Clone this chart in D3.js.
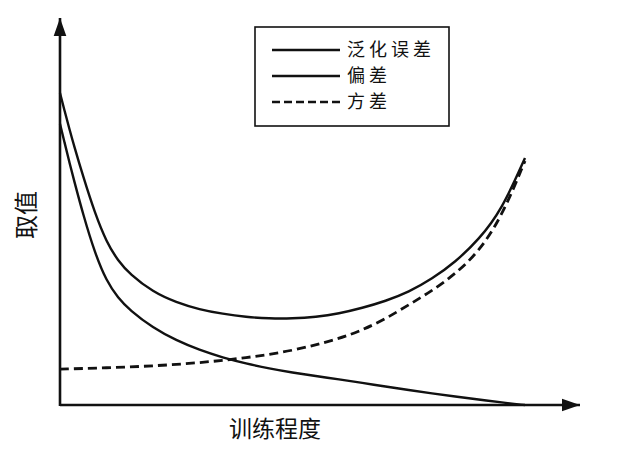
<!DOCTYPE html>
<html>
<head>
<meta charset="utf-8">
<script src="https://cdn.jsdelivr.net/npm/d3@7/dist/d3.min.js"></script>
<style>
  body { margin: 0; background: #fff; }
  svg { display: block; }
  text { font-family: "Noto Sans CJK SC", "Noto Sans", sans-serif; fill: #111; }
</style>
</head>
<body>
<svg id="chart" width="626" height="458"></svg>
<script>
// training degree (x) samples shared by the error and bias curves
const steps = [0, 0.1, 0.2, 0.3, 0.5, 0.75, 1, 1.25, 1.5, 2, 2.5, 3, 3.5, 4, 4.5, 5, 5.5, 6, 6.5, 7, 7.5, 8, 8.5, 9, 9.5, 10];

// generalization error (泛化误差)
const errorValues = [10.0, 9.42, 8.86, 8.32, 7.31, 6.15, 5.22, 4.62, 4.20, 3.62, 3.29, 3.06, 2.92, 2.82, 2.77, 2.77, 2.82, 2.93, 3.11, 3.33, 3.62, 4.04, 4.58, 5.29, 6.25, 7.92];

// bias (偏差)
const biasValues = [9.01, 8.40, 7.79, 7.21, 6.09, 4.87, 3.97, 3.43, 3.04, 2.47, 2.07, 1.76, 1.52, 1.33, 1.17, 1.04, 0.93, 0.82, 0.71, 0.59, 0.48, 0.37, 0.27, 0.18, 0.08, 0];

// variance (方差), sampled on its own x grid
const varSteps = [0, 1, 2, 3, 4, 5, 6, 6.5, 7, 7.5, 8, 8.5, 9, 9.5, 10];
const varValues = [1.15, 1.19, 1.25, 1.35, 1.51, 1.73, 2.12, 2.40, 2.76, 3.21, 3.66, 4.20, 4.90, 6.03, 7.82];

const legendLabels = ['泛化误差', '偏差', '方差'];
const xTitle = '训练程度';
const yTitle = '取值';

// layout
const originX = 60;
const originY = 405;
const INK = '#111';

const xScale = d3.scaleLinear().domain([0, 10]).range([originX, 525]);
const yScale = d3.scaleLinear().domain([0, 10]).range([originY, 93]);

const svg = d3.select('#chart');

// arrow marker for the axes
svg.append('defs').append('marker')
    .attr('id', 'arrow')
    .attr('viewBox', '0 0 10 10')
    .attr('refX', 10)
    .attr('refY', 5)
    .attr('markerWidth', 7)
    .attr('markerHeight', 7)
    .attr('markerUnits', 'strokeWidth')
    .attr('orient', 'auto')
    .append('path')
    .attr('d', 'M0,1.5 L10,5 L0,8.5 Z')
    .attr('fill', INK);

// axes: plain lines with arrow heads
svg.append('line')
    .attr('x1', originX).attr('y1', originY)
    .attr('x2', 580).attr('y2', originY)
    .attr('stroke', INK)
    .attr('stroke-width', 2.6)
    .attr('marker-end', 'url(#arrow)');

svg.append('line')
    .attr('x1', originX).attr('y1', originY + 1)
    .attr('x2', originX).attr('y2', 18)
    .attr('stroke', INK)
    .attr('stroke-width', 2.6)
    .attr('marker-end', 'url(#arrow)');

// basis spline keeps the hand-read samples smooth
const line = d3.line()
    .x(d => xScale(d[0]))
    .y(d => yScale(d[1]))
    .curve(d3.curveBasis);

const series = [
    { pts: d3.zip(steps, errorValues), dash: null },
    { pts: d3.zip(steps, biasValues), dash: null },
    { pts: d3.zip(varSteps, varValues), dash: '9,5' }
];

svg.selectAll('path.curve')
    .data(series)
    .join('path')
    .attr('class', 'curve')
    .attr('d', d => line(d.pts))
    .attr('fill', 'none')
    .attr('stroke', INK)
    .attr('stroke-width', d => d.dash ? 2.8 : 2.4)
    .attr('stroke-dasharray', d => d.dash);

// legend
const legend = svg.append('g');
legend.append('rect')
    .attr('x', 255).attr('y', 27)
    .attr('width', 194).attr('height', 99)
    .attr('fill', 'none')
    .attr('stroke', INK)
    .attr('stroke-width', 1.6);

const rows = legend.selectAll('g.row')
    .data(legendLabels)
    .join('g')
    .attr('class', 'row')
    .attr('transform', (d, i) => `translate(0,${[50, 76, 102][i]})`);

rows.append('line')
    .attr('x1', 272).attr('x2', 340)
    .attr('stroke', INK)
    .attr('stroke-width', (d, i) => i === 2 ? 2.6 : 2.4)
    .attr('stroke-dasharray', (d, i) => i === 2 ? '8,4' : null);

rows.append('text')
    .attr('x', 347)
    .attr('dy', '0.35em')
    .style('font-size', '18px')
    .style('letter-spacing', '4px')
    .text(d => d);

// axis titles
svg.append('text')
    .attr('x', 275)
    .attr('y', 429)
    .attr('text-anchor', 'middle')
    .attr('dy', '0.35em')
    .style('font-size', '23px')
    .text(xTitle);

svg.append('text')
    .attr('transform', 'translate(27,215) rotate(-90)')
    .attr('text-anchor', 'middle')
    .attr('dy', '0.35em')
    .style('font-size', '24px')
    .text(yTitle);
</script>
</body>
</html>
